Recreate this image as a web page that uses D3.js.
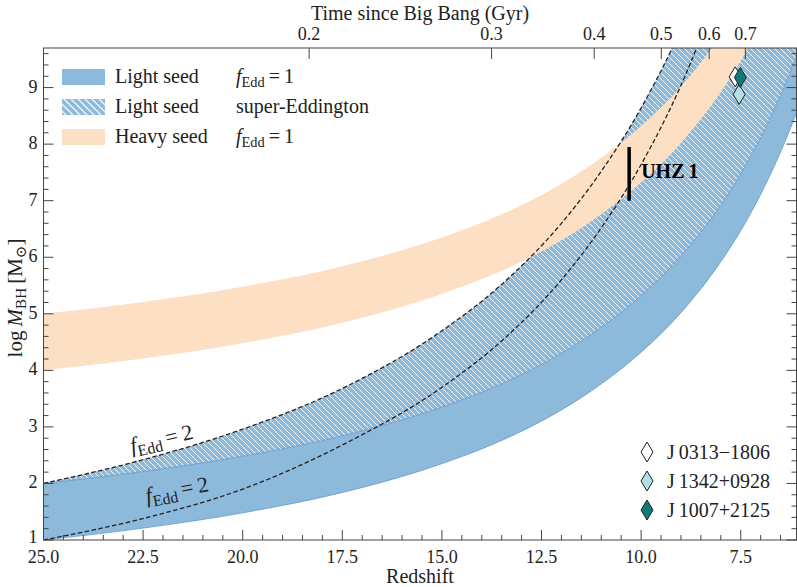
<!DOCTYPE html>
<html lang="en">
<head>
<meta charset="UTF-8">
<title>Black hole growth</title>
<style>
    body { margin: 0; background: #fff; }
</style>
</head>
<body>
<svg id="chart" width="797" height="587" font-family="'Liberation Serif', 'DejaVu Serif', 'Times New Roman', Times, serif"></svg>
<script src="https://cdn.jsdelivr.net/npm/d3@7/dist/d3.min.js"></script>
<script>
// redshift samples and log M_BH of each band edge
const redshifts  = [25, 22.5, 20, 17.5, 15, 13.5, 12, 11, 10, 9, 8, 7.5, 7, 6.5, 6.1]
const lightLow   = [1, 1.21, 1.48, 1.84, 2.35, 2.76, 3.30, 3.76, 4.32, 5.02, 5.92, 6.47, 7.11, 7.86, 8.55]
const lightHigh  = [2, 2.21, 2.48, 2.84, 3.35, 3.76, 4.30, 4.76, 5.32, 6.02, 6.92, 7.47, 8.11, 8.86, 9.55]
const superHigh  = [2, 2.42, 2.96, 3.68, 4.70, 5.52, 6.60, 7.52, 8.64, 10.04, 11.84, 12.9, 14.2, 15.7, 17.1]
const superLow   = [1, 1.38, 1.90, 2.68, 3.70, 4.52, 5.60, 6.52, 7.64, 9.04, 10.84, 11.9, 13.2, 14.7, 16.1]
const heavyLow   = [4, 4.21, 4.48, 4.84, 5.35, 5.76, 6.30, 6.76, 7.32, 8.02, 8.92, 9.47, 10.11, 10.86, 11.55]
const heavyHigh  = [5, 5.21, 5.48, 5.84, 6.35, 6.76, 7.30, 7.76, 8.32, 9.02, 9.92, 10.47, 11.11, 11.86, 12.55]

const quasarNames = ['J\u20090313\u22121806', 'J\u20091342+0928', 'J\u20091007+2125']
const quasarZ     = [7.64, 7.54, 7.51]
const quasarLogM  = [9.19, 8.88, 9.18]

const uhz1 = { z: 10.3, lo: 7.0, hi: 7.95 }

const zTicks    = [25, 22.5, 20, 17.5, 15, 12.5, 10, 7.5]
const mTicks    = [1, 2, 3, 4, 5, 6, 7, 8, 9]
const timeTicks = [0.2, 0.3, 0.4, 0.5, 0.6, 0.7]

const blue = '#8db9da'
const blueEdge = '#5f9bcb'
const peach = '#fde0c4'
const ink = '#222'
const quasarFill = ['#ffffff', '#b3e0e6', '#0f7a78']

const pL = 43.5, pR = 796.5, pT = 48, pB = 540

const x = d3.scaleLinear().domain([25, 6.1]).range([pL, pR])
const y = d3.scaleLinear().domain([1, 9.7]).range([pB, pT])

// flat LCDM (H0=70, Om=0.3): age <-> redshift for the top axis
const A = 2 / (3 * Math.sqrt(0.7)) * 977.8 / 70
const B = Math.sqrt(0.7 / 0.3)
const zOfT = t => Math.pow(Math.sinh(t / A) / B, -2 / 3) - 1

const svg = d3.select('#chart')
const defs = svg.append('defs')
defs.append('clipPath').attr('id', 'clip')
    .append('rect').attr('x', pL).attr('y', pT)
    .attr('width', pR - pL).attr('height', pB - pT)

function makeHatch(id, s, w) {
    const p = defs.append('pattern').attr('id', id)
        .attr('patternUnits', 'userSpaceOnUse').attr('width', s).attr('height', s)
    p.append('rect').attr('width', s).attr('height', s).attr('fill', blue)
    p.append('path').attr('d', `M-1,-1L${s + 1},${s + 1}M-1,${s - 1}L1,${s + 1}M${s - 1},-1L${s + 1},1`)
        .attr('stroke', '#fff').attr('stroke-opacity', 0.9).attr('stroke-width', w)
}
makeHatch('hatch', 6, 1)
makeHatch('hatchL', 7, 1.3)

const band = (lo, hi) => d3.area()
    .x((d, i) => x(redshifts[i]))
    .y0((d, i) => y(lo[i]))
    .y1((d, i) => y(hi[i]))
    .curve(d3.curveMonotoneX)(redshifts)
const edge = vals => d3.line()
    .x((d, i) => x(redshifts[i]))
    .y((d, i) => y(vals[i]))
    .curve(d3.curveMonotoneX)(redshifts)

const plot = svg.append('g').attr('clip-path', 'url(#clip)')
plot.append('path').attr('d', band(lightLow, lightHigh)).attr('fill', blue)
plot.append('path').attr('d', band(lightHigh, superHigh)).attr('fill', 'url(#hatch)')
plot.append('path').attr('d', edge(lightLow)).attr('fill', 'none').attr('stroke', blueEdge).attr('stroke-width', 0.8)
plot.append('path').attr('d', edge(lightHigh)).attr('fill', 'none').attr('stroke', blueEdge).attr('stroke-width', 0.8)
plot.append('path').attr('d', band(heavyLow, heavyHigh)).attr('fill', peach)
plot.append('path').attr('d', edge(superHigh)).attr('fill', 'none')
    .attr('stroke', ink).attr('stroke-width', 1.3).attr('stroke-dasharray', '4.5,2.5')
plot.append('path').attr('d', edge(superLow)).attr('fill', 'none')
    .attr('stroke', ink).attr('stroke-width', 1.3).attr('stroke-dasharray', '4.5,2.5')

// UHZ 1
plot.append('line')
    .attr('x1', x(uhz1.z)).attr('x2', x(uhz1.z))
    .attr('y1', y(uhz1.lo)).attr('y2', y(uhz1.hi))
    .attr('stroke', '#000').attr('stroke-width', 3.5)
svg.append('text').attr('x', x(uhz1.z) + 12).attr('y', y(7.4))
    .attr('font-size', 20).attr('font-weight', 'bold').attr('fill', '#000').text('UHZ\u20091')

// quasars
const diamond = (cx, cy, w, h) => `M${cx},${cy - h}L${cx + w},${cy}L${cx},${cy + h}L${cx - w},${cy}Z`
quasarZ.forEach((z, i) => {
    plot.append('path').attr('d', diamond(x(z), y(quasarLogM[i]), 6, 10))
        .attr('fill', quasarFill[i]).attr('stroke', ink).attr('stroke-width', 1)
})

// f_Edd = n labels
function fEdd(g, val, size) {
    const t = g.append('text').attr('font-size', size).attr('fill', ink)
    t.append('tspan').attr('font-style', 'italic').text('f')
    t.append('tspan').attr('font-size', size * 0.72).attr('dy', size * 0.22).text('Edd')
    t.append('tspan').attr('dy', -size * 0.22).text('\u2009=\u2009' + val)
    return t
}
fEdd(svg.append('g').attr('transform', 'translate(132,453) rotate(-13)'), 2, 22)
fEdd(svg.append('g').attr('transform', 'translate(147,503) rotate(-11)'), 2, 22)

// axes
const axes = svg.append('g').attr('stroke', '#444').attr('fill', 'none')
axes.append('rect').attr('x', pL).attr('y', pT)
    .attr('width', pR - pL).attr('height', pB - pT).attr('stroke-width', 1)

d3.range(25, 6.0, -0.5).forEach(z => {
    const major = zTicks.includes(z)
    axes.append('line').attr('x1', x(z)).attr('x2', x(z))
        .attr('y1', pB).attr('y2', pB - (major ? 10 : 5))
})
zTicks.forEach(z => {
    svg.append('text').attr('x', x(z)).attr('y', pB + 23).attr('fill', ink)
        .attr('text-anchor', 'middle').attr('font-size', 18).text(z.toFixed(1))
})

d3.range(1, 9.71, 0.2).forEach(m => {
    const major = Math.abs(m - Math.round(m)) < 1e-6
    const len = major ? 10 : 5
    axes.append('line').attr('x1', pL).attr('x2', pL + len).attr('y1', y(m)).attr('y2', y(m))
    axes.append('line').attr('x1', pR).attr('x2', pR - len).attr('y1', y(m)).attr('y2', y(m))
})
mTicks.forEach(m => {
    svg.append('text').attr('x', pL - 6).attr('y', y(m) + (m === 1 ? 3 : 5)).attr('fill', ink)
        .attr('text-anchor', 'end').attr('font-size', 18).text(m)
})

timeTicks.forEach(t => {
    const xx = x(zOfT(t))
    axes.append('line').attr('x1', xx).attr('x2', xx).attr('y1', pT).attr('y2', pT + 11)
    svg.append('text').attr('x', xx).attr('y', pT - 8).attr('fill', ink)
        .attr('text-anchor', 'middle').attr('font-size', 18).text(t)
})

svg.append('text').attr('x', (pL + pR) / 2).attr('y', 583).attr('fill', ink)
    .attr('text-anchor', 'middle').attr('font-size', 20).text('Redshift')
svg.append('text').attr('x', (pL + pR) / 2).attr('y', 20).attr('fill', ink)
    .attr('text-anchor', 'middle').attr('font-size', 20).text('Time since Big Bang (Gyr)')

const yl = svg.append('text').attr('transform', `translate(22,298) rotate(-90)`)
    .attr('text-anchor', 'middle').attr('font-size', 21).attr('fill', ink)
yl.append('tspan').text('log\u2009')
yl.append('tspan').attr('font-style', 'italic').text('M')
yl.append('tspan').attr('font-size', 15).attr('dy', 4).text('BH')
yl.append('tspan').attr('dy', -4).text('\u2009[M')
yl.append('tspan').attr('font-size', 15).attr('dy', 4).text('\u2299')
yl.append('tspan').attr('dy', -4).text(']')

// legend, top left
const legendFills = [blue, 'url(#hatchL)', peach]
const legendSeeds = ['Light seed', 'Light seed', 'Heavy seed']
const legendRates = ['1', 'super-Eddington', '1']
legendSeeds.forEach((seed, i) => {
    const cy = 77 + i * 30
    svg.append('rect').attr('x', 62).attr('y', cy - 8).attr('width', 43).attr('height', 16).attr('fill', legendFills[i])
    svg.append('text').attr('x', 115).attr('y', cy + 6).attr('font-size', 20).attr('fill', ink).text(seed)
    if (legendRates[i] === '1') {
        fEdd(svg.append('g').attr('transform', `translate(236,${cy + 6})`), 1, 20)
    } else {
        svg.append('text').attr('x', 236).attr('y', cy + 6).attr('font-size', 20).attr('fill', ink).text(legendRates[i])
    }
})

// legend, bottom right
quasarNames.forEach((name, i) => {
    const cy = 452 + i * 29
    svg.append('path').attr('d', diamond(647, cy, 6, 10))
        .attr('fill', quasarFill[i]).attr('stroke', ink).attr('stroke-width', 1)
    svg.append('text').attr('x', 667).attr('y', cy + 7).attr('font-size', 20).attr('fill', ink).text(name)
})
</script>
</body>
</html>
